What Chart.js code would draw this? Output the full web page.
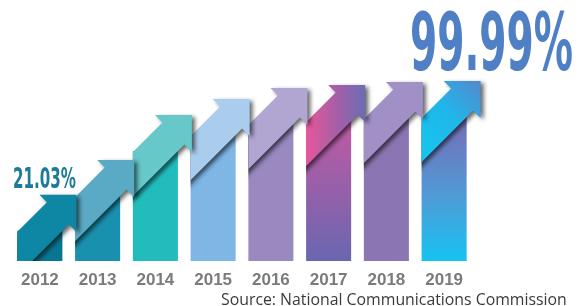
<!DOCTYPE html>
<html>
<head>
<meta charset="utf-8">
<script src="https://cdn.jsdelivr.net/npm/chart.js@4.4.1/dist/chart.umd.min.js"></script>
<style>
html,body{margin:0;padding:0;background:#ffffff;overflow:hidden}
#wrap{width:581px;height:306px;position:relative}
</style>
</head>
<body>
<div id="wrap"><canvas id="c" width="581" height="306"></canvas></div>
<script>
// ---- data ----
const years = ['2012', '2013', '2014', '2015', '2016', '2017', '2018', '2019'];
const coverage = [21.03, 45.1, 76.4, 87.5, 95.1, 97.2, 99.3, 99.99];
const firstLabel = '21.03%';
const lastLabel = '99.99%';
const sourceText = 'Source: National Communications Commission';

// ---- styles ----
const barColors = ['#087692', '#1991ae', '#22bcbd', '#7eb6e5', '#9a89c1', 'grad2017', '#8b76b3', 'grad2019'];
const arrowColors = ['#0d87a4', '#5aaac5', '#66c8c9', '#aacdee', '#b1a6d2', 'grad2017', '#a090c5', 'grad2019'];

function barFill(ctx) {
  const chart = ctx.chart;
  const i = ctx.dataIndex;
  const c = barColors[i];
  const area = chart.chartArea;
  if (!area) return '#999';
  if (c === 'grad2017') {
    const g = chart.ctx.createLinearGradient(0, area.top, 0, area.bottom);
    g.addColorStop(0, '#c25aa2');
    g.addColorStop(1, '#6a66b0');
    return g;
  }
  if (c === 'grad2019') {
    const g = chart.ctx.createLinearGradient(0, area.top, 0, area.bottom);
    g.addColorStop(0, '#776db6');
    g.addColorStop(0.55, '#4f9bd6');
    g.addColorStop(1, '#16c3f1');
    return g;
  }
  return c;
}

const arrowPlugin = {
  id: 'arrows',
  afterDatasetsDraw(chart) {
    const ctx = chart.ctx;
    const meta = chart.getDatasetMeta(0);
    const B = chart.scales.y.getPixelForValue(0);
    for (let i = meta.data.length - 1; i >= 0; i--) {
      const el = meta.data[i];
      const L = el.x - el.width / 2, R = el.x + el.width / 2, T = el.y;
      const tx = R + 14, ty = T - 36;
      const c = tx + ty, w = 22, h = 37;
      const k = tx - ty - h;
      const lowN = { x: (c + w + k) / 2, y: (c + w - k) / 2 };
      const upN = { x: (c - w + k) / 2, y: (c - w - k) / 2 };
      ctx.save();
      ctx.beginPath();
      ctx.rect(L, 0, chart.width - L, B);
      ctx.clip();
      ctx.beginPath();
      ctx.moveTo(tx, ty);
      ctx.lineTo(tx, ty + h);
      ctx.lineTo(lowN.x, lowN.y);
      ctx.lineTo(lowN.x - 300, lowN.y + 300);
      ctx.lineTo(upN.x - 300, upN.y + 300);
      ctx.lineTo(upN.x, upN.y);
      ctx.lineTo(tx - h, ty);
      ctx.closePath();
      let fill = arrowColors[i];
      if (fill === 'grad2017') {
        const g = ctx.createLinearGradient(L, 0, tx, 0);
        g.addColorStop(0, '#e8579b');
        g.addColorStop(0.5, '#a85fa6');
        g.addColorStop(1, '#6a6cb5');
        fill = g;
      } else if (fill === 'grad2019') {
        const g = ctx.createLinearGradient(L, T + 20, tx, ty);
        g.addColorStop(0, '#17c2ef');
        g.addColorStop(0.45, '#20b6ea');
        g.addColorStop(1, '#5588cc');
        fill = g;
      }
      ctx.shadowColor = 'rgba(0,0,0,0.6)';
      ctx.shadowBlur = 4;
      ctx.shadowOffsetX = 3;
      ctx.shadowOffsetY = 2;
      ctx.fillStyle = fill;
      ctx.fill();
      ctx.restore();
    }
  },
  afterDraw(chart) {
    const ctx = chart.ctx;
    const xs = chart.scales.x;
    ctx.save();
    // year labels
    ctx.font = 'bold 17px "Liberation Sans", Arial, sans-serif';
    ctx.fillStyle = '#7b7b7b';
    ctx.textAlign = 'center';
    ctx.textBaseline = 'alphabetic';
    years.forEach((y, i) => {
      ctx.fillText(y, xs.getPixelForValue(i), 284.5);
    });
    // first value label
    ctx.textAlign = 'left';
    ctx.fillStyle = '#1b7b99';
    ctx.font = 'bold 28px "Liberation Sans Narrow", "DejaVu Sans Condensed", "Liberation Sans", sans-serif';
    ctx.fillText(firstLabel, 13, 188, 63);
    // last value label
    ctx.fillStyle = '#4f80c5';
    ctx.font = 'bold 80px "Liberation Sans Narrow", "DejaVu Sans Condensed", "Liberation Sans", sans-serif';
    ctx.fillText(lastLabel, 410, 70, 163);
    // source
    ctx.fillStyle = '#3a3a3a';
    let fs = 16;
    ctx.font = fs + 'px "Open Sans", "Noto Sans", sans-serif';
    const mw = ctx.measureText(sourceText).width;
    fs = Math.min(17, fs * 346 / mw);
    ctx.font = fs.toFixed(2) + 'px "Open Sans", "Noto Sans", sans-serif';
    ctx.fillText(sourceText, 221, 305);
    ctx.restore();
  }
};

new Chart(document.getElementById('c'), {
  type: 'bar',
  data: {
    labels: years,
    datasets: [{
      data: coverage,
      backgroundColor: barFill,
      borderWidth: 0,
      categoryPercentage: 1,
      barPercentage: 0.78
    }]
  },
  options: {
    responsive: false,
    animation: false,
    events: [],
    layout: { padding: { left: 11, right: 108, top: 117, bottom: 45 } },
    plugins: { legend: { display: false }, tooltip: { enabled: false }, title: { display: false } },
    scales: {
      x: { display: false },
      y: { display: false, min: 0, max: 100 }
    }
  },
  plugins: [arrowPlugin]
});
</script>
</body>
</html>
